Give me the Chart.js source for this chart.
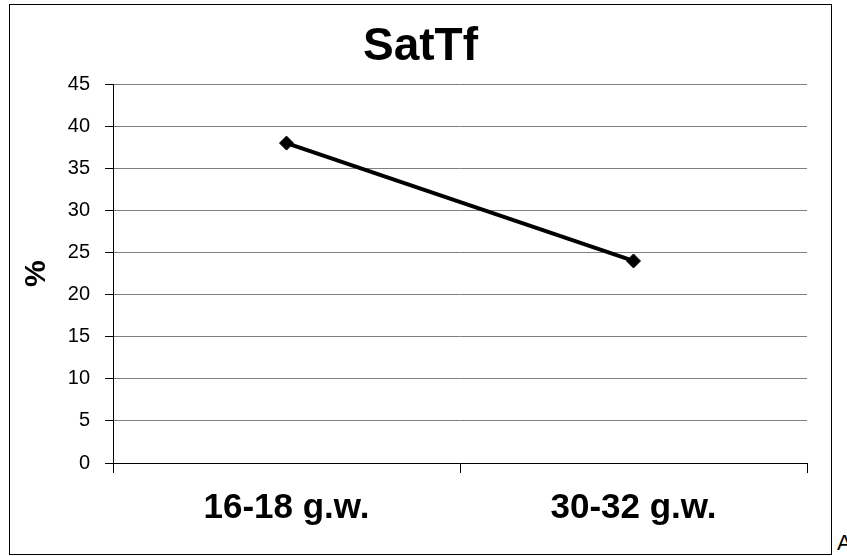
<!DOCTYPE html>
<html>
<head>
<meta charset="utf-8">
<script src="https://cdn.jsdelivr.net/npm/chart.js@4"></script>
<style>
  body { margin: 0; background: #fff; }
  #box { position: absolute; left: 9px; top: 4px; width: 821px; height: 549px; border: 1px solid #000; }
  #letter { position: absolute; left: 837px; top: 530px; font: 22px "Liberation Sans", Arial, sans-serif; color: #000; }
</style>
</head>
<body>
<div id="box"><canvas id="wykres" width="821" height="549"></canvas></div>
<span id="letter">A</span>
<script>
const kategorie = ["16-18 g.w.", "30-32 g.w."];
const satTf = [38, 24];
const osY = { min: 0, max: 45, krok: 5 };

const czcionka = '"Liberation Sans", Arial, sans-serif';
Chart.defaults.font.family = czcionka;
Chart.defaults.color = '#000';

var ctx = document.getElementById("wykres").getContext("2d");
var wykres = new Chart(ctx, {
    type: 'line',
    data: {
        labels: kategorie,
        datasets: [{
            label: 'SatTf',
            data: satTf,
            borderColor: '#000',
            borderWidth: 4,
            backgroundColor: '#000',
            pointStyle: 'rectRot',
            pointRadius: 7,
            pointBorderWidth: 1,
            pointBackgroundColor: '#000',
            tension: 0
        }]
    },
    options: {
        responsive: false,
        animation: false,
        layout: { padding: 0 },
        scales: {
            x: {
                offset: true,
                grid: { offset: true, drawOnChartArea: false, tickLength: 10, color: '#000' },
                border: { display: true, color: '#000', width: 1 },
                ticks: { padding: 14, font: { size: 35, weight: 'bold' } },
                afterFit: function (s) { s.height = 91; }
            },
            y: {
                min: osY.min,
                max: osY.max,
                ticks: { stepSize: osY.krok, padding: 15, font: { size: 20 } },
                grid: { color: '#808080', tickColor: '#000', tickLength: 8 },
                border: { display: true, color: '#000', width: 1 },
                title: { display: true, text: '%', font: { size: 30, weight: 'bold' }, padding: { top: 9, bottom: 0 } },
                afterFit: function (s) { s.width = 103; }
            },
            // pusty margines po prawej, zeby tytul zostal na srodku
            prawy: {
                type: 'linear',
                position: 'right',
                ticks: { display: false },
                grid: { display: false },
                border: { display: false },
                afterFit: function (s) { s.width = 24; }
            }
        },
        plugins: {
            legend: { display: false },
            tooltip: { enabled: false },
            title: {
                display: true,
                text: 'SatTf',
                color: '#000',
                font: { size: 46, weight: 'bold' },
                padding: { top: 15, bottom: 9 }
            }
        }
    }
});
</script>
</body>
</html>
